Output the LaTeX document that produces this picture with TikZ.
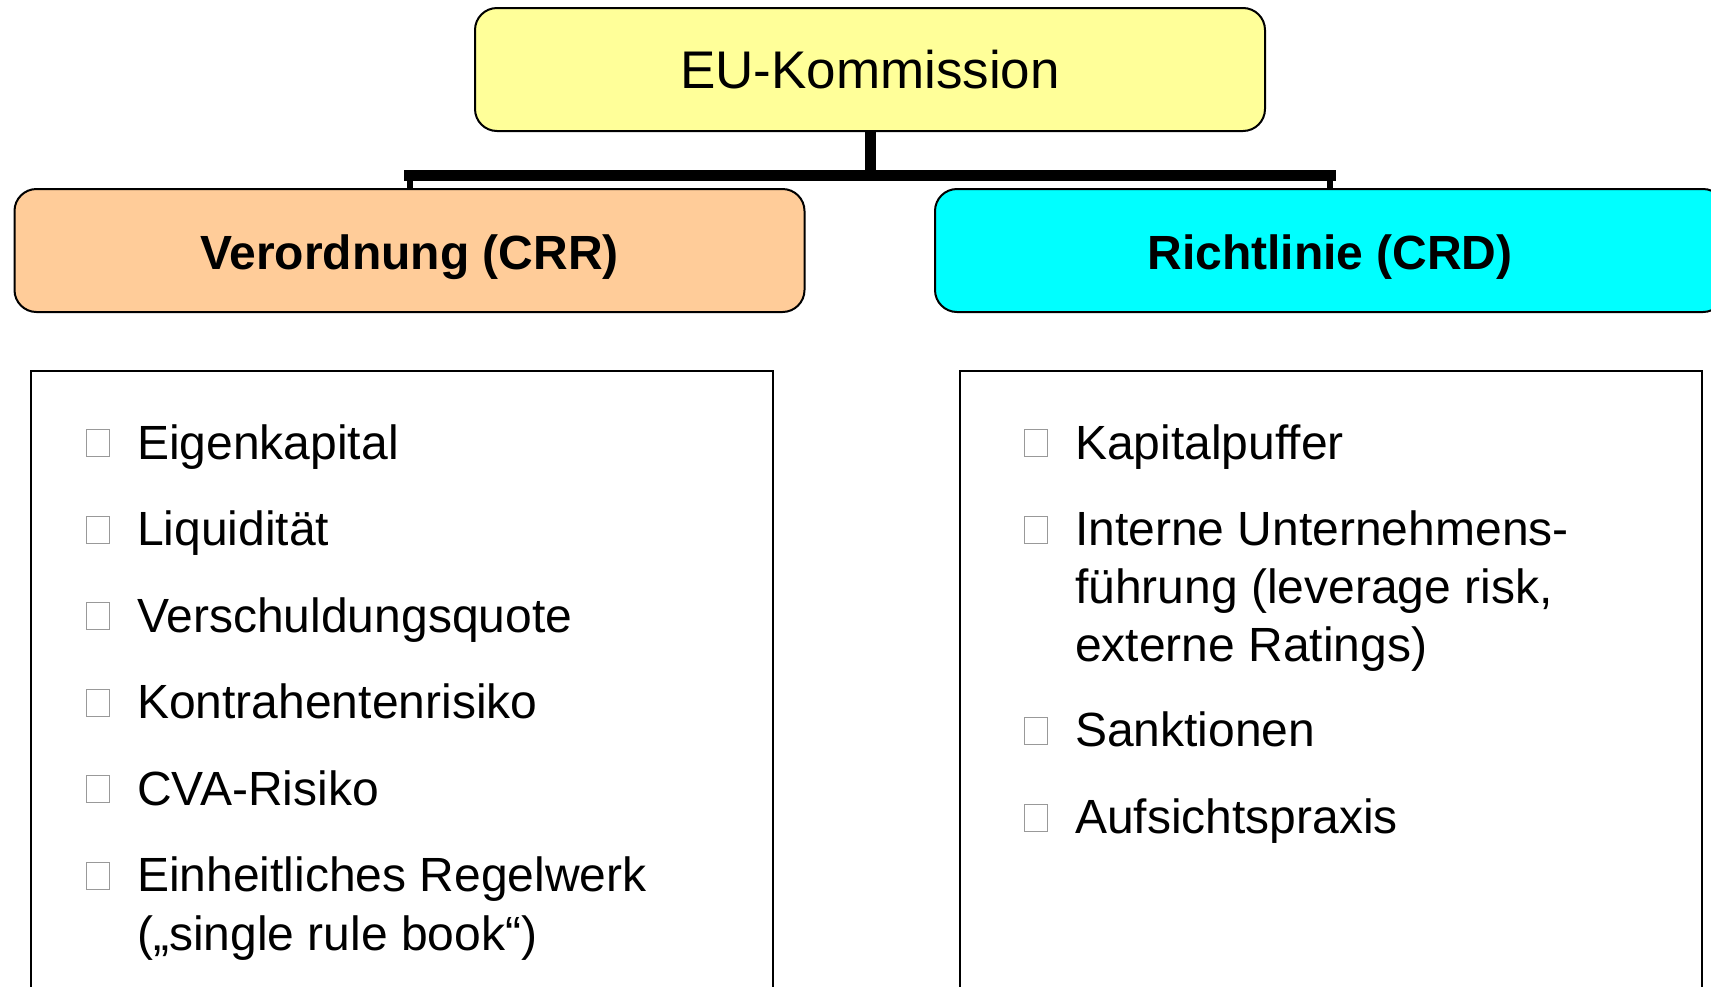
\documentclass[tikz,border=0pt]{standalone}
\usepackage{fontspec}
\setmainfont{Liberation Sans}
\definecolor{komyellow}{HTML}{FFFF99}
\definecolor{crrpeach}{HTML}{FFCC99}
\definecolor{crdcyan}{HTML}{00FFFF}
\begin{document}
\begin{tikzpicture}[x=1pt,y=-1pt,
  head/.style={draw=black,line width=2pt,rounded corners=22pt,minimum width=790pt,minimum height=123pt,inner sep=0pt},
  headbf/.style={head,text height=44pt,text depth=7pt,font=\fontsize{48}{56}\selectfont\bfseries},
  listbox/.style={draw=black,line width=2.5pt},
  item/.style={anchor=base west,inner sep=0pt,font=\fontsize{48}{56}\selectfont},
  tick/.style={draw=gray!80,line width=1pt,minimum width=23pt,minimum height=27pt,inner sep=0pt,anchor=south west},
  trunk/.style={line width=11pt}]
\useasboundingbox (0,0) rectangle (1711,986);
\clip (0,0) rectangle (1711,986);
\node[head,fill=komyellow,font=\fontsize{53}{60}\selectfont] (kom) at (870,69.5) {EU-Kommission};
\node[headbf,fill=crrpeach] (crr) at (409.5,250.5) {Verordnung (CRR)};
\node[headbf,fill=crdcyan] (crd) at (1330,250.5) {Richtlinie (CRD)};
% Verbindungen
\coordinate (fork) at (870,175.5);
\draw[trunk] (kom.south) -- (fork);
\draw[trunk,line cap=rect] (crr.north |- fork) -- (crd.north |- fork);
\draw[line width=6pt] (crr.north) -- (crr.north |- fork);
\draw[line width=6pt] (crd.north) -- (crd.north |- fork);
% Listen
\draw[listbox] (31,371) rectangle (773,1000);
\draw[listbox] (960,371) rectangle (1702,1000);
\foreach \txt [count=\i from 0] in {Eigenkapital,Liquidität,Verschuldungsquote,Kontrahentenrisiko,CVA-Risiko,Einheitliches Regelwerk}{
  \node[tick] (lb\i) at (86,{457+86.5*\i}) {};
  \node[item] (li\i) at (137,{459+86.5*\i}) {\txt};
}
\node[item] (li6) at (137,950.5) {(„single rule book“)};
\node[tick] (rb0) at (1024,457) {};
\node[item] (ri0) at (1075,459) {Kapitalpuffer};
\node[tick] (rb1) at (1024,543.5) {};
\node[item] (ri1) at (1075,545.5) {Interne Unternehmens-};
\node[item] (ri1b) at (1075,603.5) {führung (leverage risk,};
\node[item] (ri1c) at (1075,661.5) {externe Ratings)};
\node[tick] (rb2) at (1024,744.5) {};
\node[item] (ri2) at (1075,746.5) {Sanktionen};
\node[tick] (rb3) at (1024,831.5) {};
\node[item] (ri3) at (1075,833.5) {Aufsichtspraxis};
\end{tikzpicture}
\end{document}
